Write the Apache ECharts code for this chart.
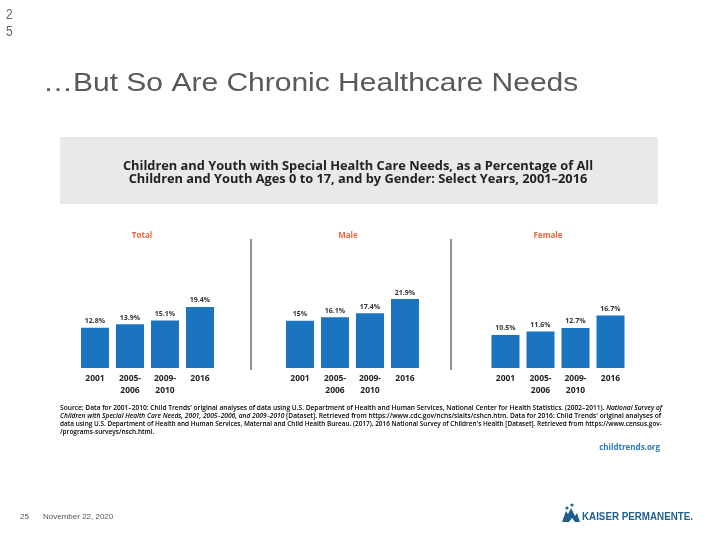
<!DOCTYPE html>
<html><head><meta charset="utf-8">
<script src="https://cdn.jsdelivr.net/npm/echarts@6/dist/echarts.min.js"></script>
<style>html,body{margin:0;padding:0;background:#fff}#c{width:720px;height:540px}</style>
</head><body><div id="c"></div>
<script>
const categories = ['2001', '2005-\n2006', '2009-\n2010', '2016'];
const panelNames = ['Total', 'Male', 'Female'];
const totalValues = [12.8, 13.9, 15.1, 19.4];
const maleValues = [15, 16.1, 17.4, 21.9];
const femaleValues = [10.5, 11.6, 12.7, 16.7];
const valueLabels = {
  Total: ['12.8%', '13.9%', '15.1%', '19.4%'],
  Male: ['15%', '16.1%', '17.4%', '21.9%'],
  Female: ['10.5%', '11.6%', '12.7%', '16.7%']
};

const seriesValues = [totalValues, maleValues, femaleValues];
const gridLefts = [77.5, 282.5, 488];
const barColor = '#1a74c0';
const FF = '"Open Sans", "Liberation Sans", Arial, sans-serif';

const chart = echarts.init(document.getElementById('c'), null, {renderer: 'canvas'});

const grids = [], xAxes = [], yAxes = [], series = [];
seriesValues.forEach((vals, i) => {
  grids.push({left: gridLefts[i], width: 140, top: 273.5, bottom: 172, containLabel: false});
  xAxes.push({
    type: 'category', gridIndex: i, data: categories,
    axisLine: {show: false}, axisTick: {show: false},
    axisLabel: {margin: 5, fontSize: 8.5, fontWeight: 'bold', color: '#222', fontFamily: FF, lineHeight: 12, interval: 0}
  });
  yAxes.push({type: 'value', gridIndex: i, min: 0, max: 30, show: false, splitLine: {show: false}});
  const labs = valueLabels[panelNames[i]];
  series.push({
    type: 'bar', xAxisIndex: i, yAxisIndex: i, data: vals, barWidth: 28,
    itemStyle: {color: barColor},
    label: {show: true, position: 'top', distance: 3, fontSize: 7, fontWeight: 'bold', color: '#333', fontFamily: FF,
      formatter: p => labs[p.dataIndex]}
  });
});

const sourceRich = {
  n: {fontSize: 6.5, color: '#333', fontFamily: FF, fontWeight: 600},
  i: {fontSize: 6.5, color: '#333', fontFamily: FF, fontWeight: 600, fontStyle: 'italic'}
};
const sourceLines = [
  "{n|Source: Data for 2001–2010: Child Trends' original analyses of data using U.S. Department of Health and Human Services, National Center for Health Statistics. (2002–2011). }{i|National Survey of}",
  "{i|Children with Special Health Care Needs, 2001, 2005–2006, and 2009–2010} {n|[Dataset]. Retrieved from https://www.cdc.gov/nchs/slaits/cshcn.htm. Data for 2016: Child Trends' original analyses of}",
  "{n|data using U.S. Department of Health and Human Services, Maternal and Child Health Bureau. (2017). 2016 National Survey of Children's Health [Dataset]. Retrieved from https://www.census.gov-}",
  "{n|/programs-surveys/nsch.html.}"
];
const lineScales = [1.018, 1.018, 0.988, 1.0];

const graphics = [
  {type: 'text', x: 6, y: 15, scaleX: 0.8, style: {text: '2', fontSize: 15, fill: '#666', fontFamily: '"Liberation Sans", sans-serif', verticalAlign: 'middle'}},
  {type: 'text', x: 6, y: 32, scaleX: 0.8, style: {text: '5', fontSize: 15, fill: '#666', fontFamily: '"Liberation Sans", sans-serif', verticalAlign: 'middle'}},
  {type: 'text', x: 43, y: 84, scaleX: 1.2, style: {text: '…But So Are Chronic Healthcare Needs', fontSize: 25, fill: '#595959', fontFamily: '"Liberation Sans", Arial, sans-serif', verticalAlign: 'middle'}},
  {type: 'rect', shape: {x: 60, y: 137, width: 598, height: 67}, style: {fill: '#e9e9e9'}, silent: true},
  {type: 'text', x: 358, y: 173, scaleX: 1.068, style: {text: 'Children and Youth with Special Health Care Needs, as a Percentage of All\nChildren and Youth Ages 0 to 17, and by Gender: Select Years, 2001–2016',
    fontSize: 12, fontWeight: 'bold', fill: '#222', fontFamily: FF, align: 'center', verticalAlign: 'middle', lineHeight: 13.5}},
  {type: 'line', shape: {x1: 251, y1: 239, x2: 251, y2: 370}, style: {stroke: '#444', lineWidth: 1.2}},
  {type: 'line', shape: {x1: 451, y1: 239, x2: 451, y2: 370}, style: {stroke: '#444', lineWidth: 1.2}},
  {type: 'text', x: 142, y: 236, style: {text: panelNames[0], fontSize: 8, fontWeight: 'bold', fill: '#e8673f', fontFamily: FF, align: 'center', verticalAlign: 'middle'}},
  {type: 'text', x: 348, y: 236, style: {text: panelNames[1], fontSize: 8, fontWeight: 'bold', fill: '#e8673f', fontFamily: FF, align: 'center', verticalAlign: 'middle'}},
  {type: 'text', x: 548, y: 236, style: {text: panelNames[2], fontSize: 8, fontWeight: 'bold', fill: '#e8673f', fontFamily: FF, align: 'center', verticalAlign: 'middle'}},
  {type: 'text', x: 660, y: 448, style: {text: 'childtrends.org', fontSize: 8, fontWeight: 'bold', fill: '#2b7bbf', fontFamily: FF, align: 'right', verticalAlign: 'middle'}},
  {type: 'text', x: 20, y: 517, style: {text: '25', fontSize: 8, fill: '#555', fontFamily: '"Liberation Sans Narrow", sans-serif', verticalAlign: 'middle'}},
  {type: 'text', x: 43, y: 517, style: {text: 'November 22, 2020', fontSize: 8, fill: '#555', fontFamily: '"Liberation Sans Narrow", sans-serif', verticalAlign: 'middle'}},
  {type: 'polygon', shape: {points: [[562, 522], [566, 511], [568, 514], [571, 508], [575, 516], [577, 513], [580, 522], [575, 522], [572, 518], [569, 522]]}, style: {fill: '#1f5f8e'}},
  {type: 'circle', shape: {cx: 567, cy: 508, r: 1.6}, style: {fill: '#1f5f8e'}},
  {type: 'circle', shape: {cx: 572, cy: 505, r: 1.6}, style: {fill: '#1f5f8e'}},
  {type: 'text', x: 582, y: 517, scaleX: 0.89, style: {text: 'KAISER PERMANENTE.', fontSize: 11, fontWeight: 'bold', fill: '#1f5f8e', fontFamily: '"Liberation Sans Narrow", sans-serif', verticalAlign: 'middle'}}
];
sourceLines.forEach((ln, k) => {
  graphics.push({type: 'text', x: 60, y: 408 + k * 8, scaleX: lineScales[k],
    style: {text: ln, rich: sourceRich, fontSize: 6.5, fontFamily: FF, verticalAlign: 'middle'}});
});

chart.setOption({
  animation: false,
  backgroundColor: '#fff',
  grid: grids, xAxis: xAxes, yAxis: yAxes, series: series,
  graphic: graphics
});
</script></body></html>
